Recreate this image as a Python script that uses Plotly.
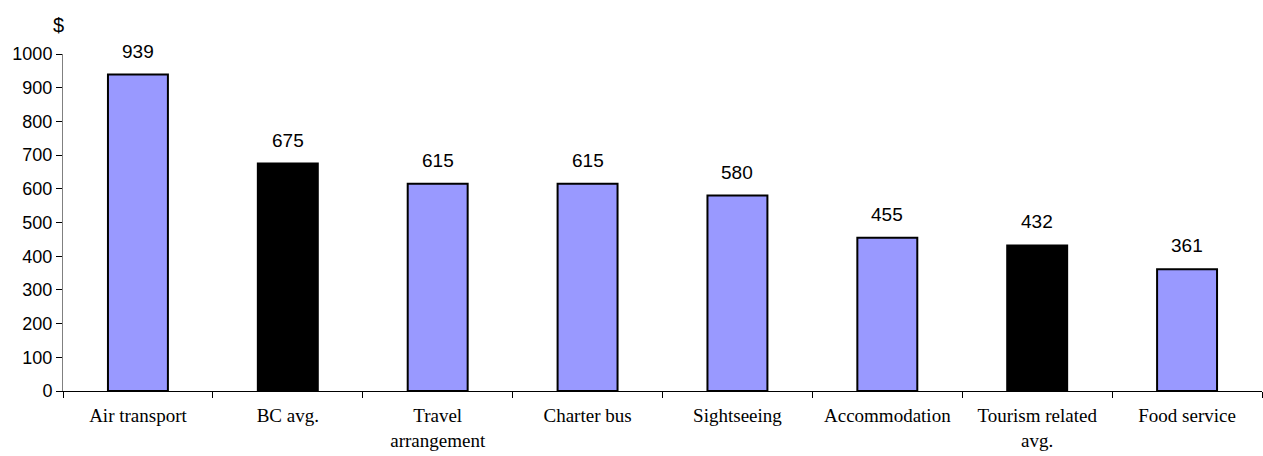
import plotly.graph_objects as go

categories = ["Air transport", "BC avg.", "Travel<br>arrangement", "Charter bus",
              "Sightseeing", "Accommodation", "Tourism related<br>avg.", "Food service"]
values = [939, 675, 615, 615, 580, 455, 432, 361]
is_average = [False, True, False, False, False, False, True, False]

bar_colors = ["#000000" if avg else "#9999FF" for avg in is_average]

fig = go.Figure()
fig.add_trace(go.Bar(
    x=categories,
    y=values,
    marker=dict(color=bar_colors, line=dict(color="#000000", width=2)),
    width=0.4,
    hoverinfo="x+y",
))

# value labels above each bar
for cat, val in zip(categories, values):
    fig.add_annotation(
        x=cat, y=val, text=str(val), showarrow=False,
        yanchor="bottom", yshift=11,
        font=dict(family="Liberation Sans, Arial, sans-serif", size=19, color="#000000"),
    )

# currency unit above the value axis
fig.add_annotation(
    xref="paper", yref="paper", x=0, y=1, xanchor="right", yanchor="bottom",
    xshift=3, yshift=16, text="$", showarrow=False,
    font=dict(family="Liberation Sans, Arial, sans-serif", size=20, color="#000000"),
)

fig.update_layout(
    width=1263, height=456,
    margin=dict(l=63, r=1, t=54, b=65),
    paper_bgcolor="white", plot_bgcolor="white",
    showlegend=False,
    bargap=0.6,
)
fig.update_xaxes(
    showline=True, linecolor="#000000", linewidth=1,
    ticks="outside", tickson="boundaries", ticklen=6, tickcolor="#000000",
    tickfont=dict(family="Liberation Serif, Times New Roman, serif", size=19, color="#000000"),
    ticklabelstandoff=7, automargin=False,
    showgrid=False,
)
fig.update_yaxes(
    range=[0, 1000], dtick=100,
    showline=True, linecolor="#808080", linewidth=1,
    ticks="outside", ticklen=6, tickcolor="#000000",
    tickfont=dict(family="Liberation Sans, Arial, sans-serif", size=18, color="#000000"),
    automargin=False,
    showgrid=False, zeroline=False,
)

fig.write_html("out.html")
